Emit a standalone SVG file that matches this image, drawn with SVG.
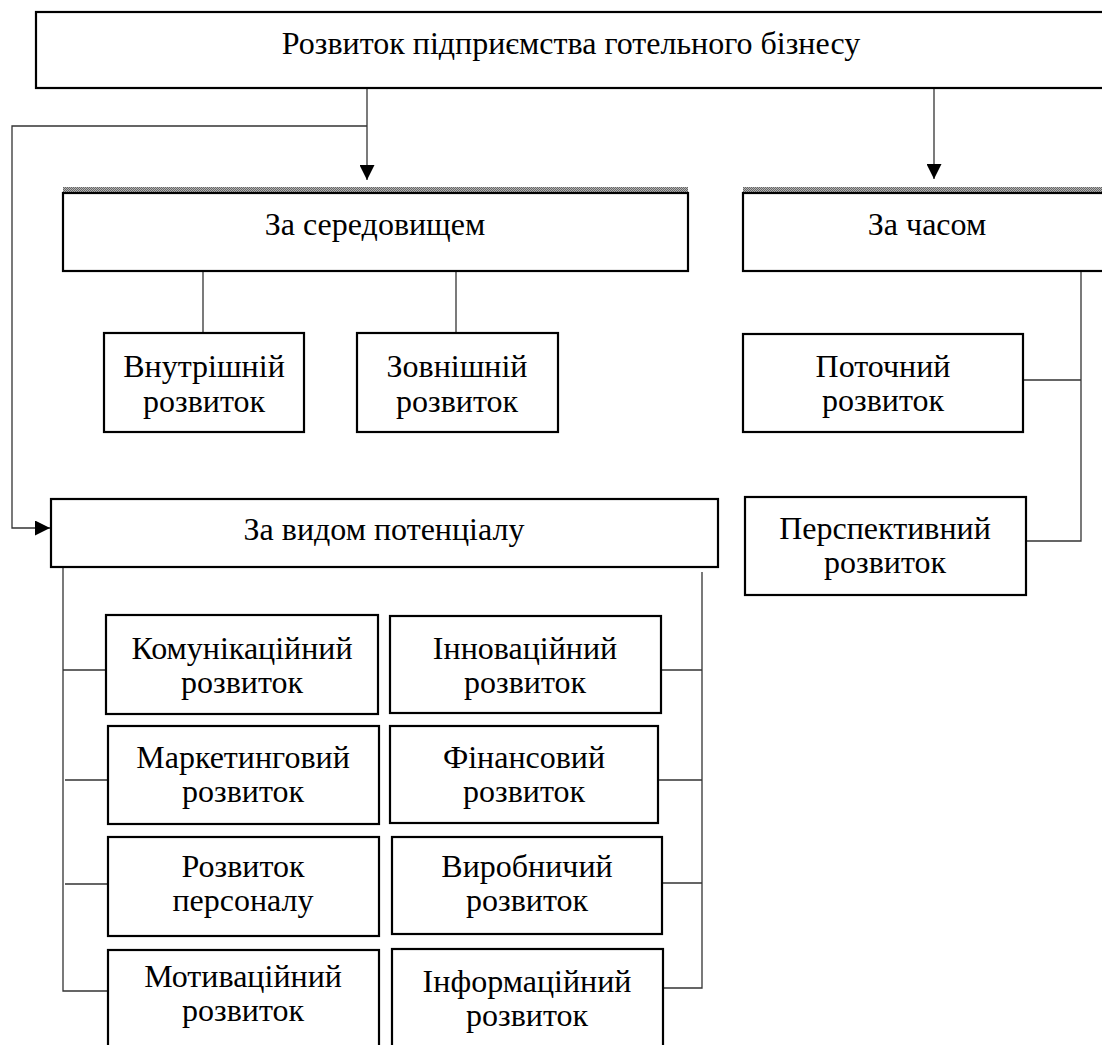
<svg xmlns="http://www.w3.org/2000/svg" width="1102" height="1045" viewBox="0 0 1102 1045">
<style>
.box{fill:#fff;stroke:#000;stroke-width:2.2}
.ln{fill:none;stroke:#333;stroke-width:1.3}
text{font-family:"Liberation Serif","Times New Roman",serif;font-size:32px;fill:#000;text-anchor:middle}
</style>
<defs>
<pattern id="hatch" width="2" height="2" patternUnits="userSpaceOnUse">
<rect width="2" height="2" fill="#b4b4b4"/>
<rect width="1" height="1" fill="#666"/>
<rect x="1" y="1" width="1" height="1" fill="#666"/>
</pattern>
<marker id="arr" viewBox="0 0 10 10" refX="10" refY="5" markerWidth="15" markerHeight="15" markerUnits="userSpaceOnUse" orient="auto">
<path d="M0,0 L10,5 L0,10 Z" fill="#000"/>
</marker>
</defs>
<rect width="1102" height="1045" fill="#fff"/>
<g id="connectors">
<path class="ln" d="M367,88 V180" marker-end="url(#arr)"/>
<path class="ln" d="M367,126 H12 V528 H50" marker-end="url(#arr)"/>
<path class="ln" d="M934,88 V179" marker-end="url(#arr)"/>
<path class="ln" d="M203,271 V332"/>
<path class="ln" d="M456,271 V333"/>
<path class="ln" d="M1081,271 V541 H1026 M1081,380 H1023"/>
<path class="ln" d="M63,567 V991 H108 M63,670 H106 M65,780 H108 M65,884 H112"/>
<path class="ln" d="M702,572 V988 H663 M702,670 H658 M702,780 H658 M702,883 H662"/>
</g>
<g id="n-root">
<rect class="box" x="36" y="12" width="1080" height="76"/>
<text x="571" y="54">Розвиток підприємства готельного бізнесу</text>
</g>
<g id="n-env">
<rect x="63" y="187" width="625" height="6" fill="url(#hatch)"/>
<rect class="box" x="63" y="193" width="625" height="78"/>
<text x="375" y="235">За середовищем</text>
</g>
<g id="n-time">
<rect x="743" y="187" width="370" height="6" fill="url(#hatch)"/>
<rect class="box" x="743" y="193" width="370" height="78"/>
<text x="927" y="235">За часом</text>
</g>
<g id="n-internal">
<rect class="box" x="104" y="333" width="200" height="99"/>
<text x="204" y="377">Внутрішній</text>
<text x="204" y="412">розвиток</text>
</g>
<g id="n-external">
<rect class="box" x="357" y="333" width="201" height="99"/>
<text x="457" y="377">Зовнішній</text>
<text x="457" y="412">розвиток</text>
</g>
<g id="n-current">
<rect class="box" x="743" y="334" width="280" height="98"/>
<text x="883" y="377">Поточний</text>
<text x="883" y="411">розвиток</text>
</g>
<g id="n-perspective">
<rect class="box" x="745" y="497" width="281" height="98"/>
<text x="885" y="539">Перспективний</text>
<text x="885" y="573">розвиток</text>
</g>
<g id="n-potential">
<rect class="box" x="51" y="499" width="667" height="68"/>
<text x="384" y="540">За видом потенціалу</text>
</g>
<g id="n-comm">
<rect class="box" x="106" y="615" width="272" height="99"/>
<text x="242" y="659">Комунікаційний</text>
<text x="242" y="693">розвиток</text>
</g>
<g id="n-innov">
<rect class="box" x="390" y="616" width="271" height="97"/>
<text x="525" y="659">Інноваційний</text>
<text x="525" y="693">розвиток</text>
</g>
<g id="n-market">
<rect class="box" x="108" y="726" width="271" height="98"/>
<text x="243" y="768">Маркетинговий</text>
<text x="243" y="802">розвиток</text>
</g>
<g id="n-fin">
<rect class="box" x="390" y="726" width="268" height="97"/>
<text x="524" y="768">Фінансовий</text>
<text x="524" y="802">розвиток</text>
</g>
<g id="n-staff">
<rect class="box" x="108" y="837" width="271" height="99"/>
<text x="243" y="877">Розвиток</text>
<text x="243" y="911">персоналу</text>
</g>
<g id="n-prod">
<rect class="box" x="392" y="837" width="270" height="97"/>
<text x="527" y="877">Виробничий</text>
<text x="527" y="911">розвиток</text>
</g>
<g id="n-motiv">
<rect class="box" x="108" y="950" width="271" height="110"/>
<text x="243" y="987">Мотиваційний</text>
<text x="243" y="1021">розвиток</text>
</g>
<g id="n-info">
<rect class="box" x="392" y="949" width="271" height="110"/>
<text x="527" y="992">Інформаційний</text>
<text x="527" y="1026">розвиток</text>
</g>
</svg>
